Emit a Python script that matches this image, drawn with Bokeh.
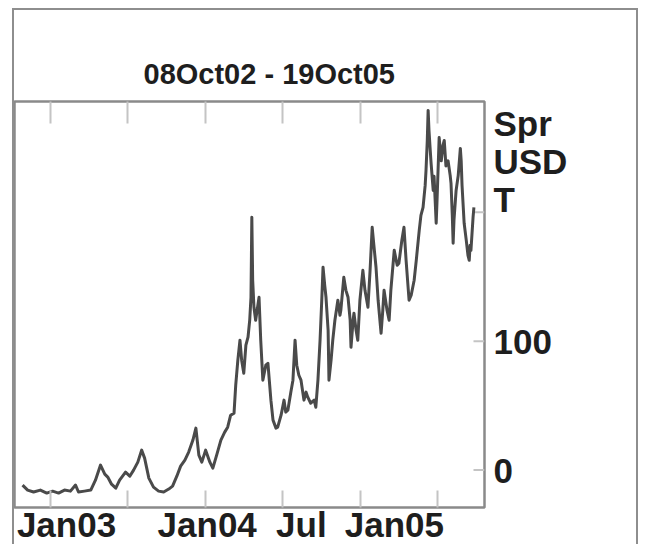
import math
import pandas as pd
from bokeh.plotting import figure
from bokeh.models import Range1d, FixedTicker, DatetimeAxis, ColumnDataSource
from bokeh.embed import file_html
from bokeh.resources import INLINE

# ---------------- data ----------------
dates = [
    "2002-10-27", "2002-11-08", "2002-11-22", "2002-12-08", "2002-12-23",
    "2003-01-06", "2003-01-20", "2003-02-03", "2003-02-17", "2003-03-01",
    "2003-03-08", "2003-03-22", "2003-04-06", "2003-04-17", "2003-04-29",
    "2003-05-09", "2003-05-16", "2003-05-25", "2003-06-04", "2003-06-13",
    "2003-06-27", "2003-07-07", "2003-07-16", "2003-07-26", "2003-08-04",
    "2003-08-11", "2003-08-21", "2003-09-01", "2003-09-13", "2003-09-25",
    "2003-10-07", "2003-10-16", "2003-10-26", "2003-11-04", "2003-11-14",
    "2003-11-23", "2003-12-03", "2003-12-10", "2003-12-17", "2003-12-24",
    "2004-01-02", "2004-01-12", "2004-01-19", "2004-01-28", "2004-02-07",
    "2004-02-16", "2004-02-23", "2004-03-01", "2004-03-09", "2004-03-13",
    "2004-03-18", "2004-03-23", "2004-03-27", "2004-04-01", "2004-04-06",
    "2004-04-11", "2004-04-15", "2004-04-18", "2004-04-20", "2004-04-22",
    "2004-04-25", "2004-04-29", "2004-05-07", "2004-05-11", "2004-05-16",
    "2004-05-23", "2004-05-28", "2004-06-04", "2004-06-09", "2004-06-16",
    "2004-06-20", "2004-06-28", "2004-07-05", "2004-07-09", "2004-07-14",
    "2004-07-21", "2004-07-26", "2004-07-31", "2004-08-04", "2004-08-09",
    "2004-08-14", "2004-08-21", "2004-08-26", "2004-08-30", "2004-09-06",
    "2004-09-14", "2004-09-18", "2004-09-23", "2004-09-28", "2004-10-02",
    "2004-10-05", "2004-10-09", "2004-10-12", "2004-10-17", "2004-10-19",
    "2004-10-24", "2004-10-28", "2004-11-02", "2004-11-09", "2004-11-14",
    "2004-11-16", "2004-11-23", "2004-11-28", "2004-12-03", "2004-12-08",
    "2004-12-10", "2004-12-15", "2004-12-17", "2004-12-22", "2004-12-26",
    "2004-12-31", "2005-01-07", "2005-01-12", "2005-01-19", "2005-01-24",
    "2005-01-29", "2005-02-02", "2005-02-07", "2005-02-12", "2005-02-19",
    "2005-02-23", "2005-02-26", "2005-03-05", "2005-03-10", "2005-03-14",
    "2005-03-22", "2005-03-29", "2005-04-02", "2005-04-09", "2005-04-14",
    "2005-04-19", "2005-04-26", "2005-05-01", "2005-05-08", "2005-05-13",
    "2005-05-20", "2005-05-24", "2005-05-29", "2005-06-03", "2005-06-05",
    "2005-06-08", "2005-06-10", "2005-06-12", "2005-06-15", "2005-06-17",
    "2005-06-22", "2005-06-24", "2005-06-29", "2005-07-01", "2005-07-06",
    "2005-07-11", "2005-07-15", "2005-07-18", "2005-07-22", "2005-07-27",
    "2005-08-01", "2005-08-03", "2005-08-06", "2005-08-08", "2005-08-10",
    "2005-08-15", "2005-08-20", "2005-08-25", "2005-08-27", "2005-08-29",
    "2005-09-03", "2005-09-08", "2005-09-12", "2005-09-15", "2005-09-17",
    "2005-09-19", "2005-09-24", "2005-09-26",
]
values = [
    -11.6, -15.5, -17.0, -15.5, -17.8,
    -16.3, -17.8, -15.5, -16.3, -11.6,
    -17.0, -16.3, -15.5, -7.8, 3.9,
    -3.1, -5.4, -10.9, -14.0, -7.8,
    -1.6, -4.7, 0.0, 6.2, 15.5,
    9.3, -6.2, -13.2, -16.3, -17.0,
    -14.7, -12.4, -4.7, 3.1, 7.8,
    14.0, 23.3, 32.6, 11.6, 6.2,
    15.5, 6.2, 1.6, 11.6, 23.3,
    29.5, 33.3, 42.6, 44.2, 65.9,
    85.3, 100.8, 85.3, 75.2, 96.9,
    103.1, 116.3, 134.1, 196.1, 147.3,
    126.4, 116.3, 134.1, 100.8, 69.8,
    81.4, 82.9, 54.3, 38.8, 32.6,
    33.3, 42.6, 54.3, 45.0, 46.5,
    60.5, 69.8, 100.8, 81.4, 73.6,
    69.8, 54.3, 60.5, 56.6, 51.9,
    54.3, 48.8, 69.8, 100.8, 131.8,
    157.4, 143.4, 134.1, 108.5, 69.8,
    85.3, 100.8, 116.3, 131.8, 120.2,
    124.0, 149.6, 139.5, 134.1, 116.3,
    95.3, 116.3, 121.7, 108.5, 100.8,
    131.8, 155.0, 139.5, 126.4, 155.0,
    188.4, 174.4, 157.4, 131.8, 106.2,
    124.0, 139.5, 124.0, 116.3, 139.5,
    170.5, 158.9, 160.5, 178.3, 188.4,
    162.8, 131.8, 135.7, 147.3, 162.8,
    186.0, 197.7, 203.9, 220.9, 232.6,
    255.8, 279.1, 263.6, 248.0, 238.0,
    217.0, 228.0, 191.5, 209.0, 258.0,
    240.0, 252.0, 255.8, 236.0, 240.0,
    228.7, 222.5, 197.7, 176.0, 194.0,
    217.0, 228.7, 249.6, 240.0, 221.0,
    191.5, 178.3, 166.7, 162.8, 174.4,
    170.5, 196.1, 203.9,
]
title_text = "08Oct02 - 19Oct05"
unit_lines = ["Spr", "USD", "T"]
x_tick_dates = ["2003-01-01", "2003-07-01", "2004-01-01",
                "2004-07-01", "2005-01-01", "2005-07-01"]
x_label_dates = ["2003-01-01", "2004-01-01", "2004-07-01", "2005-01-01"]
x_labels = ["Jan03", "Jan04", "Jul", "Jan05"]
y_ticks = [0, 100, 200]
y_tick_labels = ["0", "100", ""]
x_start, x_end = "2002-10-08", "2005-10-21"
y_start, y_end = -29, 286

# ---------------- layout / style ----------------
FONT = "Liberation Sans"
TXT = "#1e1e1e"
TICK = "#c4c4c4"
W, H = 626, 536
FRAME_W = 470
FRAME_TOP, FRAME_BOTTOM = 91, 39
FRAME_H = H - FRAME_TOP - FRAME_BOTTOM
label_dx_px = [16, 2, 19, 34]          # label centre shift from its tick, px
unit_dy_px = [-22, -60, -98]           # unit lines: centre below frame top, px

x0, x1 = pd.Timestamp(x_start), pd.Timestamp(x_end)
ms_per_px = (x1 - x0).total_seconds() * 1000 / FRAME_W
val_per_px = (y_end - y_start) / FRAME_H

src = ColumnDataSource(dict(x=pd.to_datetime(dates), y=values))

p = figure(width=W, height=H, output_backend="svg", toolbar_location=None,
           x_axis_type="datetime", y_axis_location="right",
           x_range=Range1d(x0, x1), y_range=Range1d(y_start, y_end),
           min_border_left=0, min_border_right=W - FRAME_W,
           min_border_top=FRAME_TOP, min_border_bottom=FRAME_BOTTOM)
p.styles = {"position": "relative", "left": "12px", "top": "8px",
            "border-top": "2px solid #8e8e8e", "border-left": "2px solid #8e8e8e",
            "border-right": "2px solid #8e8e8e"}
p.grid.visible = False
p.outline_line_color = "#8a8a8a"
p.outline_line_width = 2.5

tick_ms = [pd.Timestamp(d).value // 10**6 for d in x_tick_dates]

# bottom axis: tick marks only
xa = p.xaxis[0]
xa.ticker = FixedTicker(ticks=tick_ms, minor_ticks=[])
xa.major_tick_in = 17
xa.major_tick_out = 0
xa.major_tick_line_color = TICK
xa.major_tick_line_width = 2
xa.minor_tick_line_color = None
xa.axis_line_color = None
xa.major_label_text_font_size = "0px"
xa.major_label_standoff = 0

# bottom axis: labels only
lab_ms = [int(pd.Timestamp(d).value // 10**6 + dx * ms_per_px)
          for d, dx in zip(x_label_dates, label_dx_px)]
la = DatetimeAxis(ticker=FixedTicker(ticks=lab_ms, minor_ticks=[]),
                  major_label_overrides={m: t for m, t in zip(lab_ms, x_labels)},
                  major_tick_in=0, major_tick_out=0, minor_tick_line_color=None,
                  major_tick_line_color=None, axis_line_color=None,
                  major_label_standoff=-3, major_label_text_font=FONT,
                  major_label_text_font_style="bold",
                  major_label_text_line_height=0.6,
                  major_label_text_font_size="35px", major_label_text_color=TXT)
p.add_layout(la, "below")

# top axis: tick marks only
ta = DatetimeAxis(ticker=FixedTicker(ticks=tick_ms, minor_ticks=[]),
                  major_tick_in=22, major_tick_out=0, major_tick_line_color=TICK,
                  major_tick_line_width=2, minor_tick_line_color=None,
                  axis_line_color=None, major_label_text_font_size="0px",
                  major_label_standoff=0)
p.add_layout(ta, "above")

# right axis: numbers plus the unit lines as labels; tick marks drawn as rays
unit_vals = [y_end + dy * val_per_px for dy in unit_dy_px]
r_ticks = list(y_ticks) + unit_vals
r_labels = list(y_tick_labels) + unit_lines
ya = p.yaxis[0]
ya.ticker = FixedTicker(ticks=r_ticks, minor_ticks=[])
ya.major_label_overrides = {t: s for t, s in zip(r_ticks, r_labels)}
ya.major_tick_in = 0
ya.major_tick_out = 0
ya.major_tick_line_color = None
ya.minor_tick_line_color = None
ya.axis_line_color = None
ya.major_label_standoff = 9
ya.major_label_text_font = FONT
ya.major_label_text_font_style = "bold"
ya.major_label_text_font_size = "35px"
ya.major_label_text_color = TXT

p.ray(x=[x1] * len(y_ticks), y=y_ticks, length=11, length_units="screen",
      angle=math.pi, line_color=TICK, line_width=2)

p.title.text = title_text
p.title.text_font = FONT
p.title.text_font_style = "bold"
p.title.text_font_size = "29px"
p.title.text_color = TXT
p.title.align = "left"
p.title.offset = 129
p.title.standoff = 19
p.title.vertical_align = "top"

p.line("x", "y", source=src, line_color="#4a4a4a", line_width=3,
       line_join="round")

open("out.html", "w").write(file_html(p, INLINE))
